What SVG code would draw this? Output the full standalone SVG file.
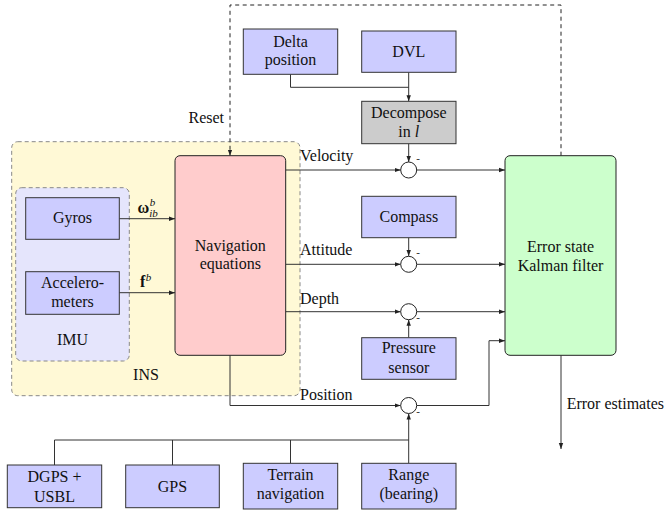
<svg xmlns="http://www.w3.org/2000/svg" width="669" height="512" viewBox="0 0 669 512" font-family="Liberation Serif, Times New Roman, serif">
<style>
text{font-family:'Liberation Serif','Times New Roman',serif;font-size:16px;fill:#111;text-anchor:middle}
.l{text-anchor:start}
.r{text-anchor:end}
.box{fill:#ccccff;stroke:#333;stroke-width:1}
.ln{fill:none;stroke:#333;stroke-width:1}
.dash{fill:none;stroke:#222;stroke-width:1;stroke-dasharray:4 3.5}
.sum{fill:#fff;stroke:#222;stroke-width:1}
.minus{font-size:11px}
</style>
<defs>
<marker id="ar" viewBox="0 0 6 6" refX="6" refY="3" markerWidth="6" markerHeight="6" markerUnits="userSpaceOnUse" orient="auto">
<path d="M0,0.8 L6,3 L0,5.2 z" fill="#222"/>
</marker>
</defs>
<g id="ins">
<rect x="11.7" y="141.7" width="288.3" height="254" rx="6" fill="#fff9d6" stroke="#888" stroke-dasharray="4 3"/>
<text x="146" y="380">INS</text>
</g>
<g id="imu">
<rect x="15.7" y="187.7" width="113.6" height="173.3" rx="6" fill="#e5e5fc" stroke="#888" stroke-dasharray="4 3"/>
<text x="72.5" y="345">IMU</text>
</g>
<g id="connectors">
<path class="ln" d="M119.3,218.7 H175" marker-end="url(#ar)"/>
<path class="ln" d="M119.3,292.7 H175" marker-end="url(#ar)"/>
<path class="ln" d="M290.5,74.3 V87.3 H408.7"/>
<path class="ln" d="M408.7,72.3 V101.3" marker-end="url(#ar)"/>
<path class="ln" d="M408.7,143.7 V162" marker-end="url(#ar)"/>
<path class="ln" d="M285.7,170 H400.7" marker-end="url(#ar)"/>
<path class="ln" d="M416.7,170 H505" marker-end="url(#ar)"/>
<path class="ln" d="M408.7,237.7 V256" marker-end="url(#ar)"/>
<path class="ln" d="M285.7,264.3 H400.7" marker-end="url(#ar)"/>
<path class="ln" d="M416.7,264.3 H505" marker-end="url(#ar)"/>
<path class="ln" d="M285.7,311.7 H400.7" marker-end="url(#ar)"/>
<path class="ln" d="M416.7,311.7 H505" marker-end="url(#ar)"/>
<path class="ln" d="M408.7,337.7 V319.7" marker-end="url(#ar)"/>
<path class="ln" d="M230,355.3 V405.5 H400.7" marker-end="url(#ar)"/>
<path class="ln" d="M416.7,405.5 H489 V340.7 H505" marker-end="url(#ar)"/>
<path class="ln" d="M408.7,463.3 V413.5" marker-end="url(#ar)"/>
<path class="ln" d="M54.5,465 V440 H408.7"/>
<path class="ln" d="M172.5,465 V440"/>
<path class="ln" d="M290.5,463.3 V440"/>
<path class="ln" d="M561,355.3 V449" marker-end="url(#ar)"/>
<path class="dash" d="M561,155.7 V5 H230 V155.7" marker-end="url(#ar)"/>
<circle class="sum" cx="408.7" cy="170" r="8"/>
<circle class="sum" cx="408.7" cy="264.3" r="8"/>
<circle class="sum" cx="408.7" cy="311.7" r="8"/>
<circle class="sum" cx="408.7" cy="405.5" r="8"/>
<text class="minus" x="418" y="162">-</text>
<text class="minus" x="418" y="256">-</text>
<text class="minus" x="418" y="321">-</text>
<text class="minus" x="418" y="415">-</text>
<text class="r" x="224" y="123.3">Reset</text>
<text class="l" x="300" y="161">Velocity</text>
<text class="l" x="300" y="255">Attitude</text>
<text class="l" x="300" y="304">Depth</text>
<text class="l" x="300" y="400">Position</text>
<text class="l" x="566.7" y="409.3">Error estimates</text>
<text class="l" x="137.5" y="213" font-weight="bold">ω<tspan font-size="11" font-style="italic" font-weight="normal" dx="0.5" dy="-7">b</tspan><tspan font-size="11" font-style="italic" font-weight="normal" dx="-6" dy="11">ib</tspan></text>
<text class="l" x="140" y="287" font-weight="bold">f<tspan font-size="11" font-style="italic" font-weight="normal" dx="0.5" dy="-6">b</tspan></text>
</g>
<g id="delta">
<rect class="box" x="243.3" y="29" width="94.4" height="45.3"/>
<text x="290.5" y="46.7">Delta</text>
<text x="290.5" y="65">position</text>
</g>
<g id="dvl">
<rect class="box" x="361.7" y="31" width="94.3" height="41.3"/>
<text x="408.8" y="57.3">DVL</text>
</g>
<g id="decompose">
<rect x="361.7" y="101.3" width="94.3" height="42.4" fill="#cccccc" stroke="#333"/>
<text x="408.8" y="117.7">Decompose</text>
<text x="408.8" y="136.7">in <tspan font-style="italic">l</tspan></text>
</g>
<g id="gyros">
<rect class="box" x="25.7" y="197.7" width="93.6" height="41.6"/>
<text x="72.5" y="222.7">Gyros</text>
</g>
<g id="accel">
<rect class="box" x="25.7" y="271.7" width="93.6" height="42.6"/>
<text x="72.5" y="288.3">Accelero-</text>
<text x="72.5" y="307.3">meters</text>
</g>
<g id="nav">
<rect x="175" y="155.7" width="110.7" height="199.6" rx="5" fill="#ffcccc" stroke="#222"/>
<text x="230.3" y="250.5">Navigation</text>
<text x="230.3" y="268.5">equations</text>
</g>
<g id="compass">
<rect class="box" x="361.7" y="196.3" width="94.3" height="41.4"/>
<text x="408.8" y="221.7">Compass</text>
</g>
<g id="pressure">
<rect class="box" x="361.7" y="337.7" width="94.3" height="41.6"/>
<text x="408.8" y="353.3">Pressure</text>
<text x="408.8" y="373.3">sensor</text>
</g>
<g id="eskf">
<rect x="505" y="155.7" width="111" height="199.6" rx="5" fill="#ccffcc" stroke="#222"/>
<text x="560.5" y="251.7">Error state</text>
<text x="560.5" y="270.7">Kalman filter</text>
</g>
<g id="dgps">
<rect class="box" x="7.3" y="465" width="94.4" height="42.7"/>
<text x="54.5" y="482.3">DGPS +</text>
<text x="54.5" y="501.7">USBL</text>
</g>
<g id="gps">
<rect class="box" x="125.7" y="465" width="93.6" height="42.7"/>
<text x="172.5" y="491.7">GPS</text>
</g>
<g id="terrain">
<rect class="box" x="243.3" y="463.3" width="94.4" height="45.7"/>
<text x="290.5" y="480">Terrain</text>
<text x="290.5" y="499.3">navigation</text>
</g>
<g id="range">
<rect class="box" x="361.7" y="463.3" width="94.3" height="45.7"/>
<text x="408.8" y="480">Range</text>
<text x="408.8" y="499.3">(bearing)</text>
</g>
</svg>
